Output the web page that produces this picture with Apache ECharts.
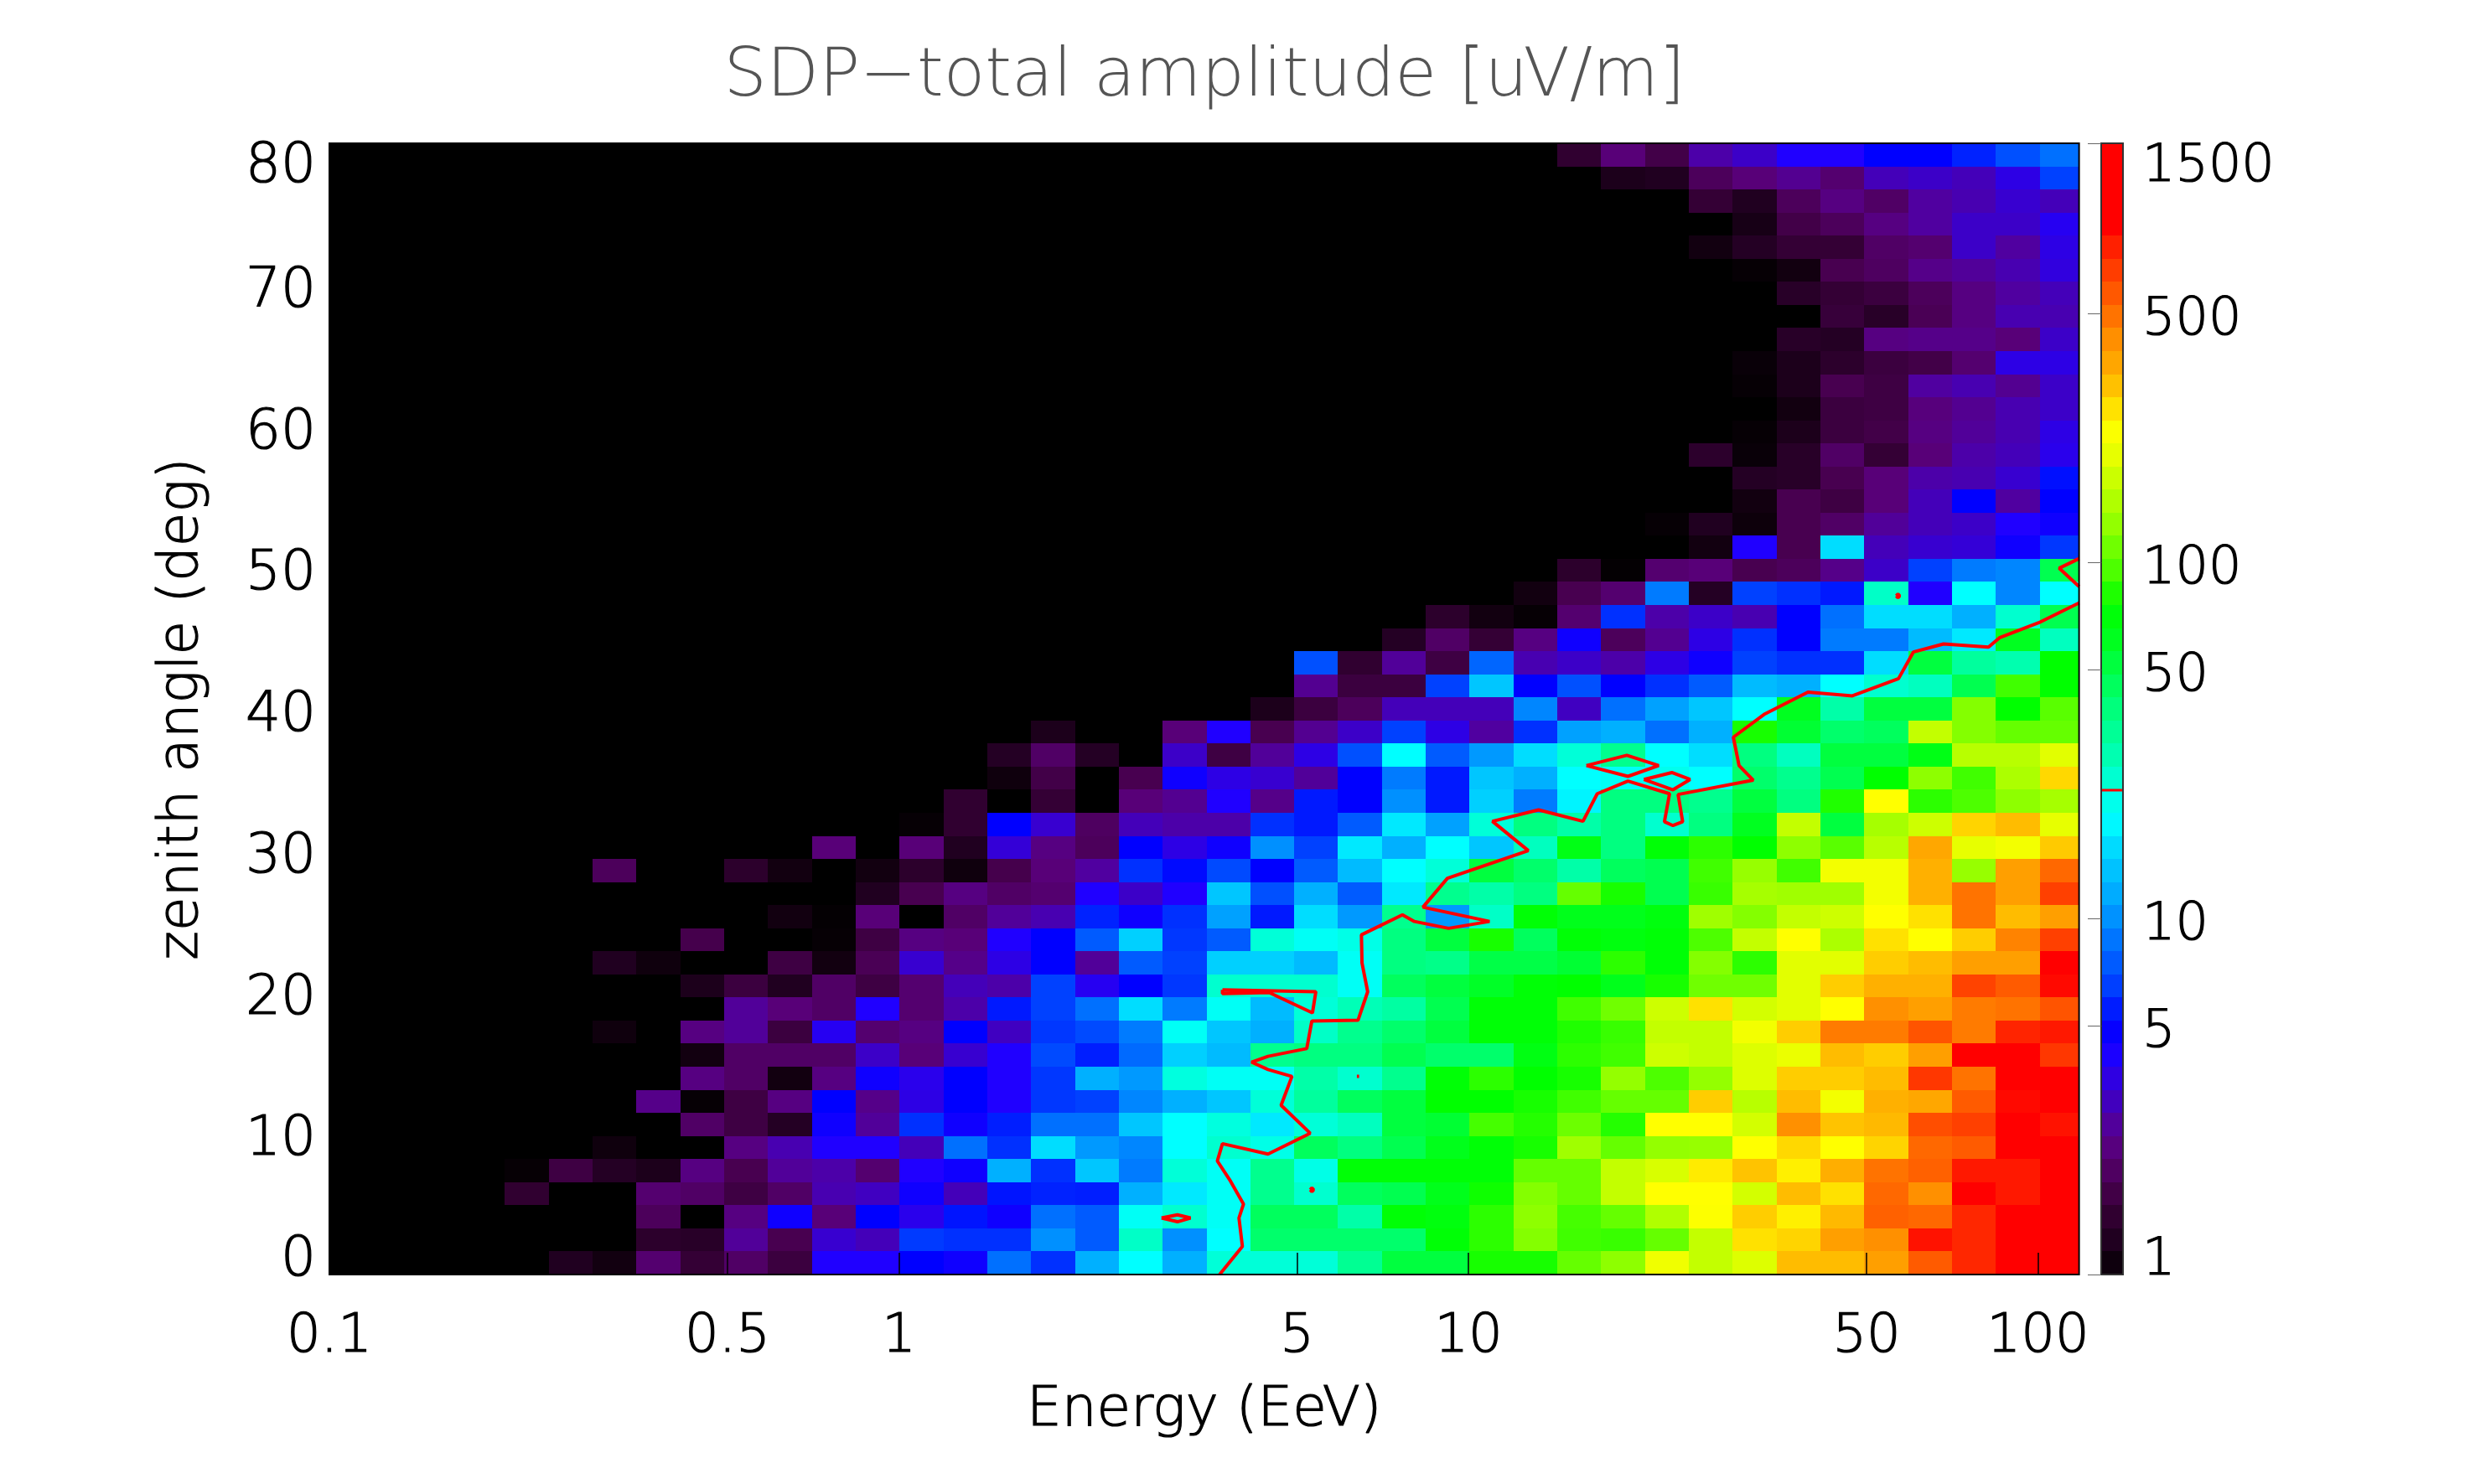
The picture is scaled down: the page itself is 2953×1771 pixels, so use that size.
<!DOCTYPE html>
<html>
<head>
<meta charset="utf-8">
<title>SDP-total amplitude</title>
<script src="https://cdn.jsdelivr.net/npm/echarts@6/dist/echarts.min.js"></script>
<style>
  html, body { margin: 0; padding: 0; background: #ffffff; }
  #chart { width: 2953px; height: 1771px; }
</style>
</head>
<body>
<div id="chart"></div>
<script>
// Binning of the amplitude map: log10(energy / EeV) columns and zenith-angle rows.
const logEnergyStart = -1;
const logEnergyBin = 0.077;
const logEnergyEnd = 2.072;
const zenithMax = 80;
const zenithRows = 49;

// Tick labels.
const energyTicks = [0.1, 0.5, 1, 5, 10, 50, 100];
const zenithTicks = [0, 10, 20, 30, 40, 50, 60, 70, 80];
const amplitudeTicks = [1, 5, 10, 50, 100, 500, 1500];
const contourLevel = 22.9;

// Amplitude in uV/m per zenith row, top row first; each row has 40 energy columns.
const r00 = [1,1,1,1,1,1,1,1,1,1,1,1,1,1,1,1,1,1,1,1,1,1,1,1,1,1,1,1,1.45,2.2,1.7,2.8,3.2,4,4,5,5,5.7,7,8.5];
const r01 = [1,1,1,1,1,1,1,1,1,1,1,1,1,1,1,1,1,1,1,1,1,1,1,1,1,1,1,1,1,1.2,1.25,1.9,2.2,2.5,2.1,3,3.2,3,3.6,6.5];
const r02 = [1,1,1,1,1,1,1,1,1,1,1,1,1,1,1,1,1,1,1,1,1,1,1,1,1,1,1,1,1,1,1,1.5,1.25,1.9,2.3,2,2.7,2.9,3.3,3];
const r03 = [1,1,1,1,1,1,1,1,1,1,1,1,1,1,1,1,1,1,1,1,1,1,1,1,1,1,1,1,1,1,1,1,1.15,1.7,1.9,2.3,2.7,3.2,3.2,3.8];
const r04 = [1,1,1,1,1,1,1,1,1,1,1,1,1,1,1,1,1,1,1,1,1,1,1,1,1,1,1,1,1,1,1,1.1,1.3,1.5,1.5,2,2.1,3.2,2.7,3.6];
const r05 = [1,1,1,1,1,1,1,1,1,1,1,1,1,1,1,1,1,1,1,1,1,1,1,1,1,1,1,1,1,1,1,1,1.03,1.1,1.8,1.95,2.4,2.6,2.9,3.5];
const r06 = [1,1,1,1,1,1,1,1,1,1,1,1,1,1,1,1,1,1,1,1,1,1,1,1,1,1,1,1,1,1,1,1,1,1.35,1.5,1.6,1.9,2.3,2.7,3];
const r07 = [1,1,1,1,1,1,1,1,1,1,1,1,1,1,1,1,1,1,1,1,1,1,1,1,1,1,1,1,1,1,1,1,1,1,1.55,1.35,1.85,2.3,2.9,2.9];
const r08 = [1,1,1,1,1,1,1,1,1,1,1,1,1,1,1,1,1,1,1,1,1,1,1,1,1,1,1,1,1,1,1,1,1,1.35,1.3,2.3,2.4,2.4,2.2,3.2];
const r09 = [1,1,1,1,1,1,1,1,1,1,1,1,1,1,1,1,1,1,1,1,1,1,1,1,1,1,1,1,1,1,1,1,1.05,1.2,1.4,1.6,1.7,2.1,3.6,3.6];
const r10 = [1,1,1,1,1,1,1,1,1,1,1,1,1,1,1,1,1,1,1,1,1,1,1,1,1,1,1,1,1,1,1,1,1.03,1.2,1.8,1.65,2.7,2.9,2.5,3.2];
const r11 = [1,1,1,1,1,1,1,1,1,1,1,1,1,1,1,1,1,1,1,1,1,1,1,1,1,1,1,1,1,1,1,1,1,1.1,1.6,1.65,2.25,2.5,2.9,3.2];
const r12 = [1,1,1,1,1,1,1,1,1,1,1,1,1,1,1,1,1,1,1,1,1,1,1,1,1,1,1,1,1,1,1,1,1.03,1.2,1.6,1.7,2.3,2.6,2.9,3.6];
const r13 = [1,1,1,1,1,1,1,1,1,1,1,1,1,1,1,1,1,1,1,1,1,1,1,1,1,1,1,1,1,1,1,1.4,1.05,1.35,2,1.5,2.2,2.8,3,3.7];
const r14 = [1,1,1,1,1,1,1,1,1,1,1,1,1,1,1,1,1,1,1,1,1,1,1,1,1,1,1,1,1,1,1,1,1.3,1.35,1.8,2.2,2.8,2.9,3.3,5.3];
const r15 = [1,1,1,1,1,1,1,1,1,1,1,1,1,1,1,1,1,1,1,1,1,1,1,1,1,1,1,1,1,1,1,1,1.1,1.8,1.65,2.2,3,5,2.7,5];
const r16 = [1,1,1,1,1,1,1,1,1,1,1,1,1,1,1,1,1,1,1,1,1,1,1,1,1,1,1,1,1,1,1.03,1.25,1.07,1.8,2,2.6,3,3.2,4,4.5];
const r17 = [1,1,1,1,1,1,1,1,1,1,1,1,1,1,1,1,1,1,1,1,1,1,1,1,1,1,1,1,1,1,1,1.1,4,1.8,16,3,3.3,3.4,4.5,6.2];
const r18 = [1,1,1,1,1,1,1,1,1,1,1,1,1,1,1,1,1,1,1,1,1,1,1,1,1,1,1,1,1.4,1.02,2.1,2.2,1.8,1.9,2.4,3.2,6.5,9,9.5,48];
const r19 = [1,1,1,1,1,1,1,1,1,1,1,1,1,1,1,1,1,1,1,1,1,1,1,1,1,1,1,1.1,1.8,2.1,9,1.3,6.5,6,5.5,26,4,19,9.5,19];
const r20 = [1,1,1,1,1,1,1,1,1,1,1,1,1,1,1,1,1,1,1,1,1,1,1,1,1,1.4,1.1,1.03,2.1,6,2.8,3.2,2.9,5,8.5,16,16,12,25,48];
const r21 = [1,1,1,1,1,1,1,1,1,1,1,1,1,1,1,1,1,1,1,1,1,1,1,1,1.3,2,1.5,2.3,4.5,1.9,2.5,3.6,6,5,9,9,13,17,60,27];
const r22 = [1,1,1,1,1,1,1,1,1,1,1,1,1,1,1,1,1,1,1,1,1,1,7,1.45,2.6,1.65,8,2.9,3.2,2.8,3.6,4.5,6.5,6,6,16,52,32,29,75];
const r23 = [1,1,1,1,1,1,1,1,1,1,1,1,1,1,1,1,1,1,1,1,1,1,2.5,1.6,1.6,6.5,14,5,7,5,6,7.5,13,12,19,25,27,48,90,75];
const r24 = [1,1,1,1,1,1,1,1,1,1,1,1,1,1,1,1,1,1,1,1,1,1.2,1.6,1.9,3,3,3,9.5,3.1,8.5,11,14,19,60,30,52,52,120,75,100];
const r25 = [1,1,1,1,1,1,1,1,1,1,1,1,1,1,1,1,1.2,1,1,2.2,4,1.8,2.5,3.2,6.5,3.6,2.7,6,11,12,8.5,12,80,55,42,45,165,120,105,105];
const r26 = [1,1,1,1,1,1,1,1,1,1,1,1,1,1,1,1.3,2,1.3,1,3.2,1.65,2.6,3.6,7,19,7.5,10.5,16,24,35,19,16,38,27,52,52,65,155,155,195];
const r27 = [1,1,1,1,1,1,1,1,1,1,1,1,1,1,1,1.08,1.7,1,1.8,4.5,3.6,3.3,2.6,5,9,5.5,14,12,19,20,21,19,42,35,48,75,125,90,145,280];
const r28 = [1,1,1,1,1,1,1,1,1,1,1,1,1,1,1.45,1,1.5,1,2.2,2.5,4,2.4,5.5,5,10,5.5,15,9,18,38,38,35,52,38,82,240,85,95,125,140];
const r29 = [1,1,1,1,1,1,1,1,1,1,1,1,1,1.03,1.45,5,3.3,1.95,3,2.8,2.8,6,5.5,7.5,17,11,24,38,30,38,25,38,60,165,52,140,175,285,320,200];
const r30 = [1,1,1,1,1,1,1,1,1,1,1,2.2,1,2.2,1.25,3.4,2.3,1.9,5,3.6,4.5,10,6.5,17,12,19,14,27,65,38,72,85,75,125,100,155,360,200,215,300];
const r31 = [1,1,1,1,1,1,1.9,1,1,1.4,1.1,1,1.1,1.4,1.08,1.75,2.2,2.7,6,5.2,6.8,5,7.5,13,19,24,52,42,30,45,48,90,130,90,215,215,340,130,380,520];
const r32 = [1,1,1,1,1,1,1,1,1,1,1,1,1.25,1.8,2.3,2,2.1,4,3.2,4,14,7,12,7.5,17,35,30,38,105,80,48,88,140,135,135,215,340,490,380,650];
const r33 = [1,1,1,1,1,1,1,1,1,1,1.1,1.02,2.2,1,2,2.6,2.9,5.7,4.5,6,11,5.5,16,10.5,35,10.5,26,72,62,62,68,135,120,165,175,240,270,490,320,380];
const r34 = [1,1,1,1,1,1,1,1,1.75,1,1,1.03,1.65,2.3,2.2,4,5,7.5,15,6.2,7.5,24,20,22,38,52,80,45,72,68,72,95,165,240,145,270,240,295,450,650];
const r35 = [1,1,1,1,1,1,1.25,1.08,1,1,1.65,1.1,1.85,3.3,2.4,3.6,5,2.6,7.5,6.5,15,15,13,20,38,36,50,50,55,85,72,120,85,195,195,295,320,380,380,1000];
const r36 = [1,1,1,1,1,1,1,1,1.2,1.6,1.25,2,1.65,2.1,3,2.8,6.5,3.8,5,6.2,25,25,25,20,45,52,58,72,75,62,80,110,110,195,295,340,340,640,560,850];
const r37 = [1,1,1,1,1,1,1,1,1,2.6,2.2,2,4,2.1,2.8,5.5,6.5,8.5,16,9,20,13,24,28,31,48,72,72,90,110,175,270,180,195,240,420,380,470,490,580];
const r38 = [1,1,1,1,1,1,1.08,1,2.3,2.6,1.6,3.8,2.1,2.3,5,3.1,6.2,6.8,9,20,14,12,26,35,42,52,72,72,82,88,165,165,215,295,470,470,580,470,750,800];
const r39 = [1,1,1,1,1,1,1,1,1.1,2,2,2,3.2,2.2,3.3,4,6.8,5.6,8.2,15,13,35,38,38,48,42,42,66,85,90,175,165,190,205,320,295,380,1000,1000,680];
const r40 = [1,1,1,1,1,1,1,1,2.3,2,1.1,2.3,4.5,3.7,5,4,6.2,12,10.5,23,20,20,30,25,35,72,85,75,80,128,95,128,190,295,295,320,680,490,1000,1000];
const r41 = [1,1,1,1,1,1,1,2.4,1.03,1.65,2.3,5,2.4,3.6,5,4,6.2,6.5,9.5,12,14,24,32,45,52,75,75,80,90,105,105,295,155,320,215,340,360,560,850,1000];
const r42 = [1,1,1,1,1,1,1,1,2,1.65,1.3,4.5,2.6,6,4.5,5.6,8.5,8.5,14,19,23,17,24,27,52,55,92,83,108,83,240,240,180,420,310,325,600,650,1000,820];
const r43 = [1,1,1,1,1,1,1.08,1,1,2.3,2.9,4,4,3,8.5,6,16,10.5,9.5,19,25,22,45,38,48,62,72,80,135,105,128,130,240,280,240,285,520,560,1000,1000];
const r44 = [1,1,1,1,1.03,1.65,1.3,1.2,2.3,1.8,2.6,2.8,2.1,4,4.5,12,6,14,9,24,20,35,22,72,72,72,72,105,105,165,185,260,310,255,345,490,540,800,800,1000];
const r45 = [1,1,1,1,1.45,1,1,2.1,2,1.65,2,2.9,3.1,4.5,3,5.4,5.7,5.6,12,17,20,35,25,45,48,62,78,120,105,165,240,240,180,320,270,520,420,1000,800,1000];
const r46 = [1,1,1,1,1,1,1,1.9,1,2.3,4.5,2.2,5,3.7,5.4,4.5,8.5,7.5,20,25,20,45,45,30,72,68,85,125,92,105,148,235,295,255,325,540,520,740,880,1100];
const r47 = [1,1,1,1,1,1,1,1.4,1.35,2.6,1.8,3.3,3,6.3,6,6,10,7.5,26,10,19,42,42,42,42,72,85,120,90,88,105,165,270,285,380,420,820,740,900,1100];
const r48 = [1,1,1,1,1,1.25,1.1,2.1,1.5,2,1.6,4,4,5,4.5,8.5,6,12,19,12,24,24,24,34,52,52,80,80,105,125,210,165,190,320,320,380,560,740,900,1100];
const amplitudeRows = [r00,r01,r02,r03,r04,r05,r06,r07,r08,r09,r10,r11,r12,r13,r14,r15,r16,r17,r18,r19,r20,r21,r22,r23,r24,r25,r26,r27,r28,r29,r30,r31,r32,r33,r34,r35,r36,r37,r38,r39,r40,r41,r42,r43,r44,r45,r46,r47,r48];

// Contour of the amplitude map at contourLevel: [log10(E/EeV), zenith deg].
const contourMain = [[0.563,0],[0.603,1.99],[0.597,4],[0.605,4.98],[0.582,6.61],[0.559,8.03],[0.568,9.25],[0.648,8.52],[0.722,9.99],[0.671,11.97],[0.69,14.01],[0.648,14.5],[0.619,15.02],[0.648,15.43],[0.716,15.98],[0.725,17.93],[0.806,17.98],[0.823,20],[0.813,22.04],[0.812,24.02],[0.884,25.44],[0.905,24.97],[0.965,24.48],[1.037,24.97],[0.92,25.98],[0.963,28.02],[1.105,29.98],[1.042,32.05],[1.123,32.86],[1.201,32.05],[1.226,34],[1.28,34.9],[1.353,34],[1.344,32.02],[1.359,31.75],[1.376,32.02],[1.368,33.95],[1.5,34.96],[1.475,35.99],[1.465,38],[1.519,39.61],[1.596,41.19],[1.674,40.92],[1.755,42.14],[1.781,44.02],[1.834,44.59],[1.913,44.37],[1.933,45.05],[2.001,46.09],[2.072,47.5]];
const contourEdge = [[2.072,48.65],[2.037,49.95],[2.072,50.63]];
const contourWedge = [[0.568,20.13],[0.732,20],[0.726,18.5],[0.65,19.94],[0.568,19.86],[0.568,20.13]];
const contourLoopA = [[1.207,35.99],[1.278,36.72],[1.334,35.99],[1.28,35.23],[1.207,35.99]];
const contourLoopB = [[1.308,35.01],[1.357,35.5],[1.389,35.01],[1.359,34.28],[1.308,35.01]];
const contourLoopC = [[0.461,4],[0.489,4.22],[0.512,4],[0.489,3.73],[0.461,4]];
const contourDotA = [[0.722,5.99],[0.725,6.12],[0.728,5.99],[0.725,5.86],[0.722,5.99]];
const contourDotB = [[0.804,14.01],[0.806,14.08],[0.808,14.01],[0.806,13.94],[0.804,14.01]];
const contourDotC = [[1.751,47.99],[1.754,48.12],[1.757,47.99],[1.754,47.86],[1.751,47.99]];
const contours = [contourMain, contourEdge, contourWedge, contourLoopA, contourLoopB, contourLoopC, contourDotA, contourDotB, contourDotC];

// Colour table: amplitude stops and their colours, interpolated in log amplitude.
const colourStopValues = [1,1.1,1.25,1.45,1.8,2.2,2.7,3.2,4,5,6,7,8.5,10,12,15,19,24,30,38,48,60,75,90,110,135,170,210,240,280,340,420,520,650,800,880];
const colourStopHex = ['#000000','#120010','#200020','#300030','#480050','#580078','#5000a0','#3c00c8','#2000ff','#0000ff','#0030ff','#0050ff','#0070ff','#0090ff','#00b0ff','#00d0ff','#00ffff','#00ffd8','#00ffa8','#00ff80','#00ff50','#00ff20','#00ff00','#40ff00','#70ff00','#a0ff00','#c8ff00','#f0ff00','#ffff00','#ffd800','#ffb000','#ff9000','#ff6800','#ff4000','#ff1800','#ff0000'];

const stopRgb = colourStopHex.map(h => [1, 3, 5].map(i => parseInt(h.slice(i, i + 2), 16)));
const stopLog = colourStopValues.map(Math.log10);

function amplitudeColour(v) {
  const t = Math.log10(Math.max(v, 1));
  let i = 0;
  while (i < stopLog.length - 2 && t > stopLog[i + 1]) i++;
  const f = Math.min(1, Math.max(0, (t - stopLog[i]) / (stopLog[i + 1] - stopLog[i])));
  const c = stopRgb[i].map((a, k) => Math.round(a + (stopRgb[i + 1][k] - a) * f));
  return 'rgb(' + c.join(',') + ')';
}

// Cells are [logE from, logE to, zenith from, zenith to, amplitude].
const zenithBin = zenithMax / zenithRows;
const cells = [];
amplitudeRows.forEach((row, r) => {
  const zenithTop = zenithMax - r * zenithBin;
  row.forEach((amp, c) => {
    const xa = logEnergyStart + c * logEnergyBin;
    cells.push([xa, Math.min(xa + logEnergyBin, logEnergyEnd), zenithTop - zenithBin, zenithTop, amp]);
  });
});

// Scale strip beside the map, quantised into bands of equal log width.
const scaleTop = Math.log10(1500);
const scaleBandCount = 49;
const scaleBands = [];
for (let i = 0; i < scaleBandCount; i++) {
  const a = scaleTop * i / scaleBandCount;
  const b = scaleTop * (i + 1) / scaleBandCount;
  scaleBands.push([0, 1, a, b, Math.pow(10, (a + b) / 2)]);
}

function drawCell(params, api) {
  const p0 = api.coord([api.value(0), api.value(3)]);
  const p1 = api.coord([api.value(1), api.value(2)]);
  const x = Math.round(p0[0]), y = Math.round(p0[1]);
  return {
    type: 'rect',
    shape: { x: x, y: y, width: Math.round(p1[0]) - x, height: Math.round(p1[1]) - y },
    style: { fill: amplitudeColour(api.value(4)) }
  };
}

const textFont = { fontFamily: '"DejaVu Sans"', fontWeight: 200, color: '#000000', textBorderColor: '#000000', textBorderWidth: 1.2 };

// The end labels of both vertical scales sit inside the axis span.
function endLabelRich(size) {
  return {
    high: Object.assign({ fontSize: size, padding: [39, 0, 0, 0] }, textFont),
    low: Object.assign({ fontSize: size, padding: [0, 0, 51, 0] }, textFont)
  };
}
function endLabel(text, isLow, isHigh) {
  return isHigh ? '{high|' + text + '}' : isLow ? '{low|' + text + '}' : text;
}

const chart = echarts.init(document.getElementById('chart'), null, { renderer: 'canvas' });
chart.setOption({
  animation: false,
  backgroundColor: '#ffffff',
  title: {
    text: 'SDP\u2212total amplitude [uV/m]',
    left: 1432,
    textAlign: 'center',
    top: 47,
    textStyle: { fontFamily: '"DejaVu Sans"', fontWeight: 200, fontSize: 81, color: '#555555' }
  },
  grid: [
    { left: 393, top: 171, width: 2087.6, height: 1350, show: true, backgroundColor: 'transparent', borderColor: '#000000', borderWidth: 2, z: 10 },
    { left: 2507, top: 171, width: 26, height: 1350, show: true, backgroundColor: 'transparent', borderColor: '#333333', borderWidth: 2, z: 10 }
  ],
  xAxis: [
    {
      type: 'value', gridIndex: 0, min: logEnergyStart, max: logEnergyEnd,
      name: 'Energy (EeV)', nameLocation: 'middle', nameGap: 130,
      nameTextStyle: Object.assign({ fontSize: 66 }, textFont),
      axisLine: { show: false }, splitLine: { show: false },
      axisTick: { show: true, inside: true, length: 26, lineStyle: { color: '#000000', width: 1.5 }, customValues: energyTicks.map(Math.log10) },
      axisLabel: Object.assign({ fontSize: 64, margin: 43, showMinLabel: true, showMaxLabel: true, customValues: energyTicks.map(Math.log10), formatter: v => String(Number(Math.pow(10, v).toPrecision(2))) }, textFont),
      z: 12
    },
    { type: 'value', gridIndex: 1, min: 0, max: 1, show: false }
  ],
  yAxis: [
    {
      type: 'value', gridIndex: 0, min: 0, max: zenithMax,
      name: 'zenith angle (deg)', nameLocation: 'middle', nameGap: 142,
      nameTextStyle: Object.assign({ fontSize: 66 }, textFont),
      axisLine: { show: false }, splitLine: { show: false },
      axisTick: { show: false },
      axisLabel: Object.assign({
        fontSize: 66, margin: 16, padding: [18, 0, 0, 0], customValues: zenithTicks,
        rich: endLabelRich(66),
        formatter: v => endLabel(String(v), v === 0, v === zenithMax)
      }, textFont),
      z: 12
    },
    {
      type: 'value', gridIndex: 1, min: 0, max: scaleTop, position: 'right',
      axisLine: { show: false }, splitLine: { show: false },
      axisTick: { show: true, inside: true, length: 16, lineStyle: { color: '#666666', width: 1 }, customValues: amplitudeTicks.map(Math.log10) },
      axisLabel: Object.assign({
        fontSize: 62, margin: 23, align: 'left', padding: [18, 0, 0, 0], customValues: amplitudeTicks.map(Math.log10),
        rich: endLabelRich(62),
        formatter: v => {
          const a = Math.round(Math.pow(10, v));
          return endLabel(String(a), a === 1, a === 1500);
        }
      }, textFont),
      z: 12
    }
  ],
  series: [
    {
      type: 'custom', xAxisIndex: 0, yAxisIndex: 0, renderItem: drawCell, data: cells,
      encode: { x: [0, 1], y: [2, 3] }, clip: true, silent: true, z: 1
    },
    {
      type: 'custom', xAxisIndex: 1, yAxisIndex: 1, renderItem: drawCell, data: scaleBands,
      encode: { x: [0, 1], y: [2, 3] }, clip: true, silent: true, z: 1
    },
    ...contours.map(points => ({
      type: 'line', xAxisIndex: 0, yAxisIndex: 0, data: points, showSymbol: false, clip: true, silent: true, z: 3,
      lineStyle: { color: '#ff0000', width: 4 }
    })),
    {
      type: 'line', xAxisIndex: 1, yAxisIndex: 1, showSymbol: false, silent: true, z: 3,
      data: [[0, Math.log10(contourLevel)], [1, Math.log10(contourLevel)]],
      lineStyle: { color: '#ff0000', width: 3 }
    }
  ]
});
</script>
</body>
</html>
